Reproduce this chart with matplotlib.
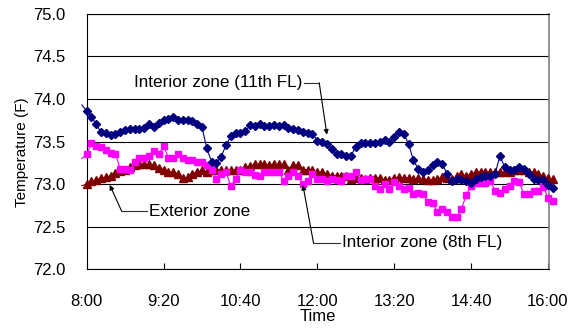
import pandas as pd
import matplotlib.pyplot as plt
import matplotlib.dates as mdates

plt.rcParams['font.family'] = ['Liberation Sans', 'DejaVu Sans']

# ---------------- data (5 min readings, 7:55 - 16:05)
times = pd.date_range('2000-01-01 07:55', '2000-01-01 16:05', freq='5min')

interior11 = [73.93, 73.86, 73.79, 73.70, 73.61, 73.60, 73.58, 73.59, 73.61, 73.64,
              73.65, 73.65, 73.65, 73.66, 73.70, 73.67, 73.72, 73.75, 73.76, 73.79,
              73.75, 73.75, 73.75, 73.74, 73.71, 73.67, 73.42, 73.26, 73.25, 73.32,
              73.46, 73.56, 73.60, 73.60, 73.62, 73.69, 73.68, 73.70, 73.68, 73.68,
              73.69, 73.68, 73.69, 73.66, 73.65, 73.64, 73.61, 73.60, 73.59, 73.51,
              73.49, 73.47, 73.41, 73.35, 73.35, 73.33, 73.33, 73.44, 73.48, 73.48,
              73.48, 73.48, 73.50, 73.52, 73.50, 73.55, 73.61, 73.59, 73.47, 73.28,
              73.18, 73.14, 73.16, 73.22, 73.26, 73.24, 73.12, 73.04, 73.06, 73.05,
              73.03, 73.01, 73.06, 73.08, 73.09, 73.10, 73.12, 73.33, 73.20, 73.17,
              73.17, 73.20, 73.18, 73.12, 73.06, 73.05, 73.05, 72.99, 72.95]

interior8 = [73.30, 73.35, 73.48, 73.45, 73.43, 73.40, 73.36, 73.35, 73.18, 73.18,
             73.16, 73.26, 73.31, 73.31, 73.33, 73.39, 73.35, 73.45, 73.31, 73.31,
             73.35, 73.31, 73.28, 73.28, 73.26, 73.26, 73.22, 73.16, 73.06, 73.12,
             73.14, 72.98, 73.06, 73.16, 73.14, 73.14, 73.11, 73.09, 73.14, 73.14,
             73.14, 73.14, 73.04, 73.10, 73.14, 73.10, 73.00, 73.04, 73.12, 73.06,
             73.06, 73.04, 73.06, 73.05, 73.04, 73.10, 73.10, 73.14, 73.05, 73.06,
             73.06, 72.98, 72.94, 73.00, 72.94, 73.02, 72.98, 72.94, 72.95, 72.88,
             72.90, 72.88, 72.79, 72.78, 72.67, 72.71, 72.67, 72.61, 72.61, 72.71,
             72.87, 72.98, 73.01, 73.01, 73.01, 73.04, 72.92, 72.90, 72.94, 72.98,
             73.04, 73.02, 72.88, 72.88, 72.92, 72.92, 72.97, 72.84, 72.80]

exterior = [72.98, 73.00, 73.03, 73.05, 73.07, 73.08, 73.10, 73.13, 73.15, 73.17,
            73.20, 73.22, 73.23, 73.23, 73.23, 73.22, 73.19, 73.17, 73.14, 73.14,
            73.12, 73.07, 73.08, 73.12, 73.14, 73.16, 73.14, 73.16, 73.16, 73.16,
            73.17, 73.17, 73.16, 73.17, 73.20, 73.21, 73.23, 73.23, 73.23, 73.22,
            73.23, 73.23, 73.23, 73.17, 73.22, 73.22, 73.17, 73.17, 73.17, 73.14,
            73.14, 73.12, 73.10, 73.10, 73.09, 73.09, 73.06, 73.07, 73.07, 73.06,
            73.07, 73.07, 73.07, 73.05, 73.05, 73.07, 73.08, 73.07, 73.07, 73.06,
            73.07, 73.06, 73.05, 73.05, 73.06, 73.08, 73.07, 73.06, 73.09, 73.12,
            73.09, 73.12, 73.14, 73.14, 73.14, 73.14, 73.14, 73.14, 73.14, 73.14,
            73.16, 73.17, 73.17, 73.14, 73.14, 73.12, 73.09, 73.07, 73.06]

yTicks = [72.0, 72.5, 73.0, 73.5, 74.0, 74.5, 75.0]
xTicks = pd.date_range('2000-01-01 08:00', '2000-01-01 16:00', freq='80min')

# ---------------- plot
fig = plt.figure(figsize=(5.7, 3.31), dpi=100)
ax = fig.add_axes([0.152, 0.187, 0.811, 0.771])

ax.plot(times, exterior, '-', color='#800000', lw=0.8, marker='^', ms=5.6,
        markevery=slice(1, None), clip_on=False, zorder=3)
ax.plot(times, interior8, '-', color='#FF00FF', lw=0.8, marker='s', ms=4.8,
        markevery=slice(1, None), clip_on=False, zorder=4)
ax.plot(times, interior11, '-', color='#000080', lw=0.8, marker='D', ms=3.9,
        markevery=slice(1, None), clip_on=False, zorder=5)

t0 = pd.Timestamp('2000-01-01 08:00')
ax.set_xlim(t0, t0 + pd.Timedelta(minutes=481))
ax.set_ylim(72.0, 75.0)
ax.set_yticks(yTicks)
ax.set_yticklabels(['%.1f' % v for v in yTicks])
ax.set_xticks(xTicks)
ax.xaxis.set_major_formatter(mdates.DateFormatter('%-H:%M'))

ax.yaxis.grid(True, color='black', lw=0.8)
ax.set_axisbelow(True)
ax.tick_params(axis='x', direction='in', length=4, width=0.8, pad=18, labelsize=12)
ax.tick_params(axis='y', length=0, pad=15, labelsize=12)
for s in ['left', 'bottom', 'top']:
    ax.spines[s].set_color('black')
    ax.spines[s].set_linewidth(0.8)
ax.spines['right'].set_color('#808080')
ax.spines['right'].set_linewidth(1.2)

ax.set_xlabel('Time', fontsize=12, labelpad=0)
ax.set_ylabel('Temperature (F)', fontsize=11)
ax.yaxis.set_label_coords(-0.125, 0.46)

# ---------------- labels with leader lines
def tm(m):
    return t0 + pd.Timedelta(minutes=m)

def leader(text, txy, corner, tip, ha):
    ax.text(tm(txy[0]), txy[1], text, ha=ha, va='center', fontsize=12.3)
    ax.plot([tm(txy[0] + (2 if ha == 'right' else -2)), tm(corner[0])],
            [txy[1], corner[1]], color='#303030', lw=0.8, zorder=6)
    ax.annotate('', xy=(tm(tip[0]), tip[1]), xytext=(tm(corner[0]), corner[1]),
                arrowprops=dict(arrowstyle='-|>', color='black', lw=0.8,
                                mutation_scale=7, shrinkA=0, shrinkB=0), zorder=6)

leader('Interior zone (11th FL)', (224, 74.19), (242, 74.19), (250, 73.58), 'right')
leader('Exterior zone', (65, 72.68), (36.5, 72.68), (24, 72.99), 'left')
leader('Interior zone (8th FL)', (266, 72.31), (236, 72.31), (225, 72.99), 'left')

fig.savefig('out.png', dpi=100)
plt.close(fig)
